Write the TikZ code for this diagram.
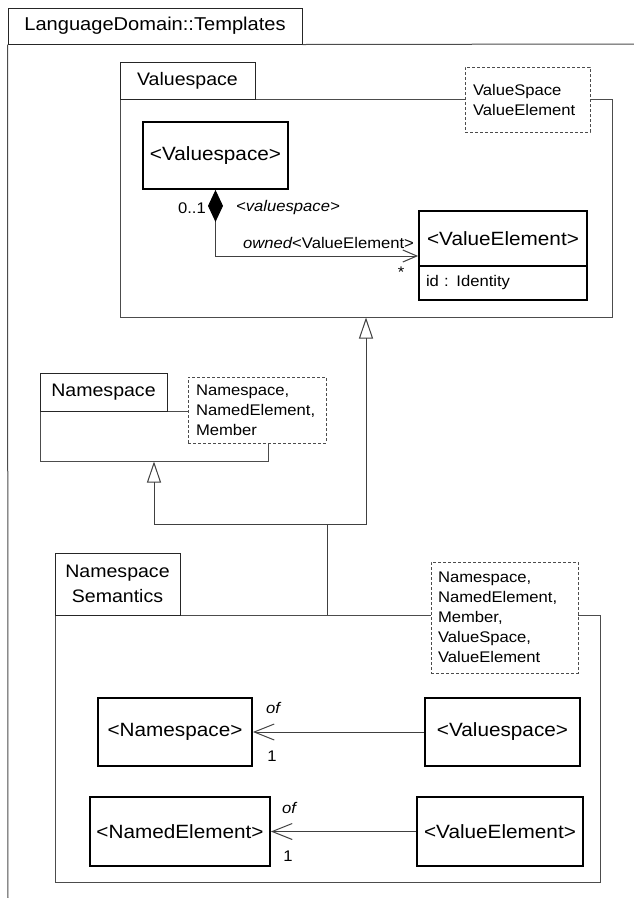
\documentclass[tikz,border=0pt]{standalone}
\usepackage{fontspec}
\setmainfont{Liberation Sans}[FakeStretch=1.08]
\usetikzlibrary{arrows.meta}
\begin{document}
\begin{tikzpicture}[x=1pt,y=-1pt,
  sized/.style 2 args={minimum width=#1pt, minimum height=#2pt},
  tab/.style={draw=black!85, line width=1pt, fill=white, inner sep=0pt,
    font=\fontsize{18.1}{25}\selectfont, align=center},
  pkgbody/.style={draw=black!70, line width=1pt, inner sep=0pt},
  pkgline/.style={draw=black!70, line width=1pt},
  cls/.style={draw=black, line width=1.8pt, fill=white, inner sep=0pt,
    font=\fontsize{19.2}{22}\selectfont},
  note/.style={draw=black!70, dash pattern=on 3pt off 2pt, line width=0.8pt,
    fill=white, inner sep=0pt, font=\fontsize{15.4}{20}\selectfont, align=left},
  lbl/.style={font=\fontsize{15.4}{17}\selectfont, inner sep=0pt},
  conn/.style={draw=black!75, line width=1pt},
  gen/.style={conn, -{Triangle[open, length=21pt, width=14pt]}},
  assoc/.style={conn, -{Straight Barb[length=20pt, width=16pt]}},
]
\useasboundingbox (0,0) rectangle (634,898);

% ---------- outer package LanguageDomain::Templates ----------
\node[tab, font=\fontsize{18.6}{22}\selectfont, sized={294}{36}] (outer) at (155,26) {LanguageDomain::Templates};
\coordinate (outerR) at (634,44);
\coordinate (outerB) at (8,898);
\draw[pkgline] (outer.south east) -- (outerR);
\draw[pkgline] (outer.south west) -- (outerB);

% ---------- package Valuespace ----------
\node[pkgbody, sized={492}{218}] (vsbody) at (366,208) {};
\node[tab, sized={135}{37}] (vstab) at (187.5,80.5) {Valuespace};
\node[note, text width=109pt, sized={125}{65}] (vsnote) at (527.5,99.5) {ValueSpace\\ValueElement};

\node[cls, sized={145}{67}] (vs1) at (215.5,155.5) {<Valuespace>};
\node[cls, sized={168}{55}] (ve1) at (503,238.5) {<ValueElement>};
\node[cls, font=\fontsize{15.4}{18}\selectfont, text width=154pt, align=left,
  sized={168}{34}] (ve1a) at (503,283) {id : Identity};

\draw[conn, {Diamond[length=32pt, width=15pt, fill=black, color=black]}-{Straight Barb[length=14pt, width=12pt]}]
  (vs1.south) |- (ve1.west |- 0,256);
\node[lbl, anchor=east] (m01) at (206,208) {0..1};
\node[lbl, anchor=west] (rvs) at (236,208) {\itshape <valuespace>};
\node[lbl, anchor=west] (rown) at (243,243) {{\itshape owned}<ValueElement>};
\node[lbl] (mstar) at (401,272) {*};

% ---------- package Namespace ----------
\node[pkgbody, sized={228}{50}] (nsbody) at (154,436) {};
\node[tab, sized={127}{38}] (nstab) at (103.5,392) {Namespace};
\node[note, text width=122pt, sized={138}{66}] (nsnote) at (257,410) {Namespace,\\NamedElement,\\Member};

% ---------- package Namespace Semantics ----------
\node[pkgbody, sized={545}{267}] (nssbody) at (327.5,748.5) {};
\node[tab, sized={125}{62}] (nsstab) at (117.5,584) {Namespace\\Semantics};
\node[note, text width=133pt, sized={147}{111}] (nssnote) at (504.5,617.5) {Namespace,\\NamedElement,\\Member,\\ValueSpace,\\ValueElement};

\node[cls, sized={154}{68}] (ns2) at (175,732) {<Namespace>};
\node[cls, sized={155}{68}] (vs2) at (502.5,732) {<Valuespace>};
\node[cls, sized={180}{69}] (ne2) at (180,831.5) {<NamedElement>};
\node[cls, sized={166}{69}] (ve2) at (500,831.5) {<ValueElement>};

\draw[assoc] (vs2) -- (ns2);
\draw[assoc] (ve2) -- (ne2);
\node[lbl] (of1) at (273,708) {\itshape of};
\node[lbl] (one1) at (272,756) {1};
\node[lbl] (of2) at (289,808) {\itshape of};
\node[lbl] (one2) at (288,856) {1};

% ---------- generalizations ----------
\coordinate (j) at (nssbody.north |- 0,524);
\draw[conn] (nssbody.north) -- (j);
\draw[gen] (j) -| (nsbody.south);
\draw[gen] (j) -| (vsbody.south);
\end{tikzpicture}
\end{document}
